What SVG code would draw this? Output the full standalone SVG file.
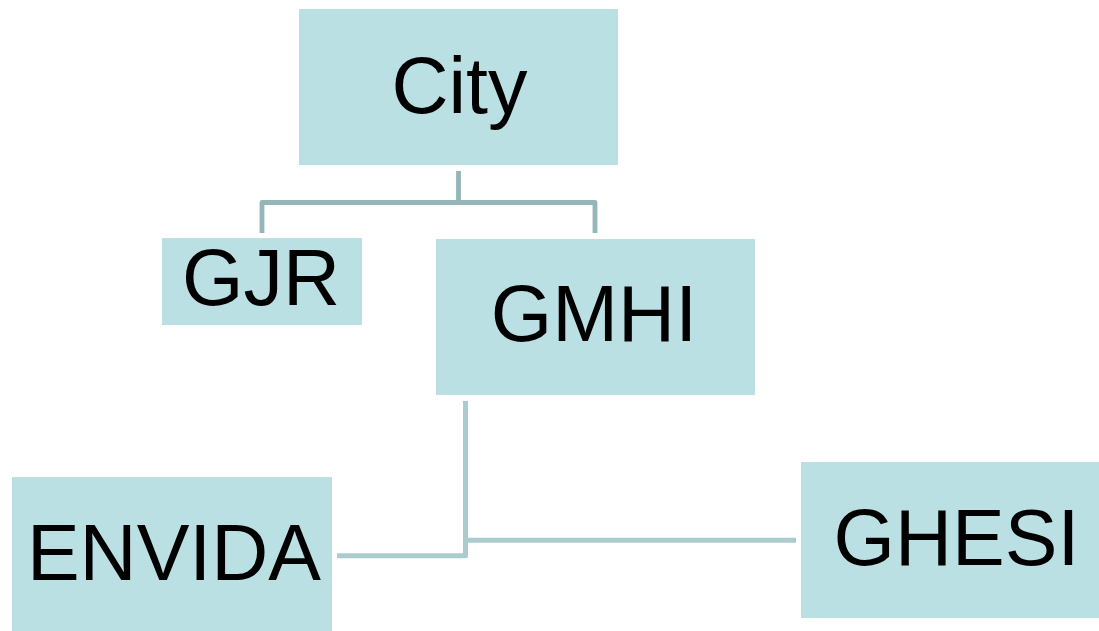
<svg xmlns="http://www.w3.org/2000/svg" width="1099" height="631" viewBox="0 0 1099 631">
<style>
.box{fill:#BBE0E3;}
.lbl{font-family:"Liberation Sans",Arial,sans-serif;font-size:79px;fill:#000;text-anchor:middle;}
.c1{fill:none;stroke:#95B5B8;stroke-width:4.8;stroke-linejoin:round;}
.c2{fill:none;stroke:#ABCCCE;stroke-width:5;stroke-linejoin:round;}
</style>
<rect width="1099" height="631" fill="#FFFFFF"/>
<g id="connectors">
<path class="c1" d="M458.5 171 V202.5"/>
<path class="c1" d="M262 233 V202.5 H595 V233"/>
<path class="c2" d="M465.5 401 V555.8 H337"/>
<path class="c2" d="M465.5 540.3 H796"/>
</g>
<g id="city">
<rect class="box" x="299" y="9" width="319" height="156"/>
<text class="lbl" x="459.5" y="113">City</text>
</g>
<g id="gjr">
<rect class="box" x="162" y="238" width="200" height="87"/>
<text class="lbl" x="261" y="305">GJR</text>
</g>
<g id="gmhi">
<rect class="box" x="436" y="239" width="319" height="156"/>
<text class="lbl" x="594" y="341">GMHI</text>
</g>
<g id="envida">
<rect class="box" x="12" y="477" width="320" height="156"/>
<text class="lbl" x="174" y="580">ENVIDA</text>
</g>
<g id="ghesi">
<rect class="box" x="801" y="462" width="300" height="156"/>
<text class="lbl" x="956.5" y="565">GHESI</text>
</g>
</svg>
